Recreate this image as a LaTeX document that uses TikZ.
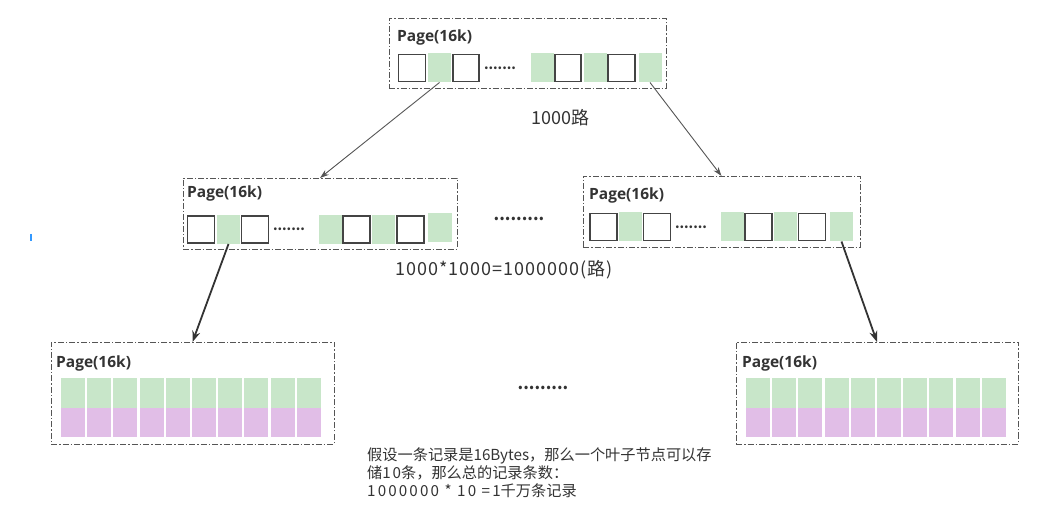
\documentclass[tikz,border=0pt]{standalone}
\usepackage{fontspec}
\setmainfont{Open Sans}
\newfontfamily\cjk{Noto Sans CJK SC}
\usetikzlibrary{arrows.meta}
\definecolor{cellgreen}{HTML}{C8E6C9}
\definecolor{cellpurple}{HTML}{E1BEE7}
\definecolor{boxgray}{HTML}{555555}
\definecolor{txtgray}{HTML}{333333}
\definecolor{tickblue}{HTML}{3399FF}
\tikzset{
  pagebox/.style={draw=boxgray, line width=0.9pt, dash pattern=on 6pt off 2pt on 1.5pt off 2pt, inner sep=0pt, outer sep=0pt},
  wcell/.style={draw=boxgray!80!black, line width=1.3pt, fill=white, inner sep=0pt, outer sep=0pt, minimum height=27pt},
  gcell/.style={fill=cellgreen, inner sep=0pt, outer sep=0pt, minimum width=23pt, minimum height=29pt},
  lgcell/.style={fill=cellgreen, inner sep=0pt, outer sep=0pt, minimum width=24pt, minimum height=30pt},
  lpcell/.style={fill=cellpurple, inner sep=0pt, outer sep=0pt, minimum width=24pt, minimum height=29pt},
  pagelabel/.style={anchor=west, inner sep=0pt, text=txtgray, font=\fontsize{15.5}{17}\selectfont\bfseries},
  dotstext/.style={inner sep=0pt, text=txtgray, font=\cjk\fontsize{13}{14}\selectfont\bfseries},
  plaintext/.style={inner sep=0pt, text=txtgray, font=\cjk\fontsize{18}{20}\selectfont},
  thinarrow/.style={draw=boxgray, line width=0.9pt, -{Stealth[length=9pt,width=6pt]}},
  thickarrow/.style={draw=txtgray, line width=1.8pt, -{Stealth[length=11pt,width=8pt]}}
}
\begin{document}
\begin{tikzpicture}[x=1pt,y=-1pt]
\useasboundingbox (0,0) rectangle (1047,526);
% top page
\node[pagebox, minimum width=277pt, minimum height=70pt] (top) at (527.5,53) {};
\node[pagelabel] (toplab) at (397,37) {Page(16k)};
\node[wcell, minimum width=27pt] (t1) at (412,68) {};
\node[gcell] (t2) at (439.5,68) {};
\node[wcell, minimum width=26pt] (t3) at (466,68) {};
\node[dotstext] (tdots) at (500,68) {.......};
\node[gcell] (t4) at (542,68) {};
\node[wcell, minimum width=26pt] (t5) at (568,68) {};
\node[gcell] (t6) at (595,68) {};
\node[wcell, minimum width=27pt] (t7) at (621.5,68) {};
\node[gcell] (t8) at (650,68) {};
% middle left page
\node[pagebox, minimum width=274pt, minimum height=71pt] (ml) at (320,213.5) {};
\node[pagelabel] (mllab) at (187,193) {Page(16k)};
\node[wcell, minimum width=27pt] (m1) at (201,229.5) {};
\node[gcell] (m2) at (228.5,229.5) {};
\node[wcell, minimum width=27pt] (m3) at (255,229.5) {};
\node[dotstext] (mdots) at (289,229.5) {.......};
\node[gcell] (m4) at (330.5,229.5) {};
\node[wcell, minimum width=27pt] (m5) at (356.5,229.5) {};
\node[gcell] (m6) at (383.5,229.5) {};
\node[wcell, minimum width=27pt] (m7) at (410.5,229.5) {};
\node[gcell, minimum width=24pt] (m8) at (440,228) {};
% middle right page
\node[pagebox, minimum width=277pt, minimum height=71pt] (mr) at (721.5,211.5) {};
\node[pagelabel] (mrlab) at (589,195) {Page(16k)};
\node[wcell, minimum width=27pt] (r1) at (603.5,227) {};
\node[gcell] (r2) at (630.5,227) {};
\node[wcell, minimum width=27pt] (r3) at (657,227) {};
\node[dotstext] (rdots) at (691,227) {.......};
\node[gcell] (r4) at (732,227) {};
\node[wcell, minimum width=27pt] (r5) at (758.5,227) {};
\node[gcell] (r6) at (785.5,227) {};
\node[wcell, minimum width=27pt] (r7) at (812,227) {};
\node[gcell] (r8) at (841.5,227) {};
% between middle pages
\node[dotstext, font=\cjk\fontsize{16}{18}\selectfont\bfseries] (middots) at (519,219) {.........};
% bottom left leaf
\node[pagebox, minimum width=283pt, minimum height=102pt] (bl) at (192.5,393) {};
\node[pagelabel] (bllab) at (56,363) {Page(16k)};
\foreach \i in {0,...,9}{
  \node[lgcell] (blg\i) at (73+26.2*\i,393) {};
  \node[lpcell] (blp\i) at (73+26.2*\i,422.5) {};
}
% bottom right leaf
\node[pagebox, minimum width=282pt, minimum height=102pt] (br) at (877,393) {};
\node[pagelabel] (brlab) at (742,363) {Page(16k)};
\foreach \i in {0,...,9}{
  \node[lgcell] (brg\i) at (758+26.2*\i,393) {};
  \node[lpcell] (brp\i) at (758+26.2*\i,422.5) {};
}
\node[dotstext, font=\cjk\fontsize{16}{18}\selectfont\bfseries] (botdots) at (543,388) {.........};
% labels
\node[plaintext, anchor=west] (l1000) at (531,118) {1000路};
\node[plaintext, anchor=west, font=\cjk\fontsize{18}{20}\selectfont\addfontfeature{LetterSpace=5.5}] (lmil) at (395,270) {1000*1000=1000000(路)};
\node[plaintext, anchor=north west, align=left, font=\cjk\fontsize{15.2}{18}\selectfont] (note) at (367,448)
  {假设一条记录是16Bytes，那么一个叶子节点可以存\\储{\addfontfeature{LetterSpace=12}10}条，那么总的记录条数：\\{\addfontfeature{LetterSpace=14}1000000 * 10 =1}千万条记录};
% connectors
\draw[thinarrow] (t2.south) -- (ml.north);
\draw[thinarrow] (t8.south) -- (mr.north);
\draw[thickarrow] (m2.south) -- (bl.north);
\draw[thickarrow] (r8.south) -- (br.north);
% small blue mark
\coordinate (tickA) at (31,234);
\coordinate (tickB) at (31,241);
\draw[tickblue, line width=1.2pt] (tickA) -- (tickB);
\end{tikzpicture}
\end{document}
